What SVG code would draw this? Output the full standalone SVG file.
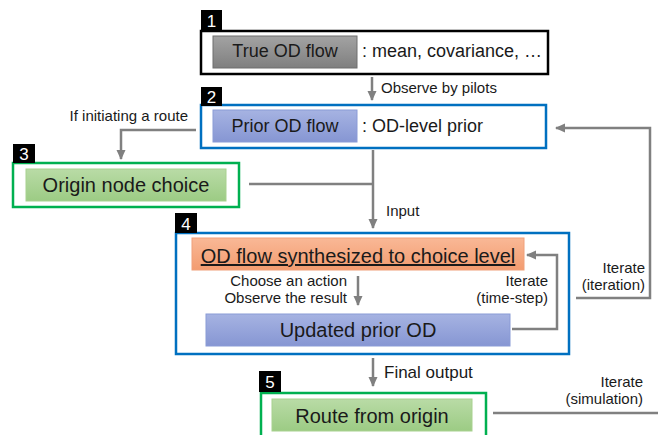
<svg xmlns="http://www.w3.org/2000/svg" width="658" height="435" viewBox="0 0 658 435">
<defs>
<linearGradient id="gGray" x1="0" y1="0" x2="0" y2="1"><stop offset="0" stop-color="#a3a3a3"/><stop offset="1" stop-color="#7f7f7f"/></linearGradient>
<linearGradient id="gBlue" x1="0" y1="0" x2="0" y2="1"><stop offset="0" stop-color="#a6b3e2"/><stop offset="1" stop-color="#8696d3"/></linearGradient>
<linearGradient id="gOrange" x1="0" y1="0" x2="0" y2="1"><stop offset="0" stop-color="#f9b896"/><stop offset="1" stop-color="#f39c70"/></linearGradient>
<linearGradient id="gGreen" x1="0" y1="0" x2="0" y2="1"><stop offset="0" stop-color="#b9dba6"/><stop offset="1" stop-color="#9ccb84"/></linearGradient>
<marker id="arr" markerUnits="userSpaceOnUse" markerWidth="10" markerHeight="10" viewBox="0 0 10 10" refX="9" refY="5" orient="auto">
<path d="M0,0.5 L10,5 L0,9.5 z" fill="#808080"/>
</marker>
</defs>
<style>
text{font-family:"Liberation Sans",Arial,sans-serif;fill:#1a1a1a}
.big{font-size:20px;text-anchor:middle}
.mid{font-size:18px}
.sm{font-size:15px}
.num{font-size:17px;fill:#ffffff;text-anchor:middle}
.tag{fill:#000000}
.frameK{fill:#ffffff;stroke:#000000;stroke-width:2.5}
.frameB{fill:#ffffff;stroke:#0070c0;stroke-width:2.5}
.frameG{fill:#ffffff;stroke:#00b050;stroke-width:2.5}
.conn{fill:none;stroke:#808080;stroke-width:2.5}
.r{text-anchor:end}
</style>

<g id="node1">
<rect class="frameK" x="201" y="31" width="347" height="43"/>
<rect class="tag" x="201" y="10" width="21" height="21"/>
<text class="num" x="211.5" y="27">1</text>
<rect x="213" y="36" width="144" height="32" fill="url(#gGray)" stroke="#6f6f6f" stroke-width="1"/>
<text class="mid" x="285" y="57" text-anchor="middle">True OD flow</text>
<text class="mid" x="362" y="57">: mean, covariance, …</text>
</g>

<g id="node2">
<rect class="frameB" x="201" y="105" width="345" height="43"/>
<rect class="tag" x="201" y="87" width="21" height="19"/>
<text class="num" x="211.5" y="103">2</text>
<rect x="213" y="110" width="144" height="32" fill="url(#gBlue)" stroke="#8a9bd6" stroke-width="1"/>
<text class="mid" x="285" y="132" text-anchor="middle">Prior OD flow</text>
<text class="mid" x="362" y="132">: OD-level prior</text>
</g>

<g id="node3">
<rect class="frameG" x="13" y="163" width="226" height="44"/>
<rect class="tag" x="13" y="144" width="22" height="19"/>
<text class="num" x="24" y="160">3</text>
<rect x="26" y="169" width="200" height="32" fill="url(#gGreen)" stroke="#a8d18f" stroke-width="1"/>
<text class="big" x="126" y="192">Origin node choice</text>
</g>

<g id="node4">
<rect class="frameB" x="176" y="233" width="393" height="121"/>
<rect class="tag" x="175" y="213" width="22" height="20"/>
<text class="num" x="186" y="230">4</text>
<rect x="192" y="238" width="332" height="32" fill="url(#gOrange)" stroke="#f0a07a" stroke-width="1"/>
<text class="big" x="358" y="263" text-decoration="underline">OD flow synthesized to choice level</text>
<rect x="206" y="314" width="304" height="32" fill="url(#gBlue)" stroke="#8a9bd6" stroke-width="1"/>
<text class="big" x="358" y="337">Updated prior OD</text>
</g>

<g id="node5">
<rect class="frameG" x="261" y="393" width="225" height="50"/>
<rect class="tag" x="259" y="371" width="22" height="21"/>
<text class="num" x="270" y="388">5</text>
<rect x="272" y="399" width="200" height="32" fill="url(#gGreen)" stroke="#a8d18f" stroke-width="1"/>
<text class="big" x="372" y="423">Route from origin</text>
</g>

<g id="connectors">
<line class="conn" x1="372" y1="77" x2="372" y2="100" marker-end="url(#arr)"/>
<polyline class="conn" points="196,130 121,130 121,159" marker-end="url(#arr)"/>
<line class="conn" x1="249" y1="184" x2="373" y2="184"/>
<line class="conn" x1="373" y1="150" x2="373" y2="228" marker-end="url(#arr)"/>
<line class="conn" x1="358" y1="276" x2="358" y2="305" marker-end="url(#arr)"/>
<polyline class="conn" points="512,329 557,329 557,255 527,255" marker-end="url(#arr)"/>
<polyline class="conn" points="576,298 650,298 650,128 556,128" marker-end="url(#arr)"/>
<line class="conn" x1="373" y1="358" x2="373" y2="386" marker-end="url(#arr)"/>
<line class="conn" x1="493" y1="413" x2="658" y2="413"/>
<text class="sm" x="381" y="93">Observe by pilots</text>
<text class="sm r" x="188" y="121">If initiating a route</text>
<text class="sm" x="386" y="216">Input</text>
<text class="sm r" x="347" y="286">Choose an action</text>
<text class="sm r" x="347" y="303">Observe the result</text>
<text class="sm r" x="548" y="286">Iterate</text>
<text class="sm r" x="548" y="303">(time-step)</text>
<text class="sm r" x="645" y="273">Iterate</text>
<text class="sm r" x="645" y="290">(iteration)</text>
<text class="mid" x="384" y="378" style="font-size:17px">Final output</text>
<text class="sm r" x="643" y="387">Iterate</text>
<text class="sm r" x="643" y="404">(simulation)</text>
</g>
</svg>
